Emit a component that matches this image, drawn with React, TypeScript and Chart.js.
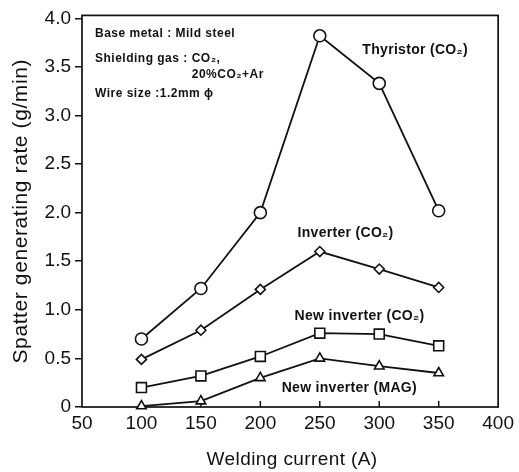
import React, { useEffect, useRef } from "react";
import { Chart, registerables } from "chart.js";

Chart.register(...registerables);

const currents = [100, 150, 200, 250, 300, 350];
const thyristorCO2 = [0.7, 1.22, 2.0, 3.82, 3.33, 2.02];
const inverterCO2 = [0.49, 0.79, 1.21, 1.6, 1.42, 1.23];
const newInverterCO2 = [0.2, 0.32, 0.52, 0.76, 0.75, 0.63];
const newInverterMAG = [0.01, 0.06, 0.3, 0.5, 0.42, 0.35];

const xTicks = [50, 100, 150, 200, 250, 300, 350, 400];
const yTicks = [0, 0.5, 1.0, 1.5, 2.0, 2.5, 3.0, 3.5, 4.0];

const xTitle = "Welding current (A)";
const yTitle = "Spatter generating rate (g/min)";

const seriesNames = ["Thyristor (CO₂)", "Inverter (CO₂)", "New inverter (CO₂)", "New inverter (MAG)"];
// label anchor positions in data units [x, y]
const seriesLabelPos: [number, number][] = [
  [285.8, 3.67],
  [231.3, 1.79],
  [228.8, 0.94],
  [217.9, 0.19],
];
const infoLines = ["Base metal : Mild steel", "Shielding gas : CO₂,", "20%CO₂+Ar", "Wire size :1.2mm ϕ"];
const infoPos: [number, number][] = [
  [60.9, 3.84],
  [60.9, 3.58],
  [142.3, 3.42],
  [60.9, 3.22],
];

const INK = "#111111";
const FONT = "'Liberation Sans', Arial, sans-serif";

const decor = {
  id: "decor",
  beforeDatasetsDraw(chart: any) {
    const { ctx, chartArea: a, scales } = chart;
    const x = scales.x;
    ctx.save();
    ctx.strokeStyle = INK;
    ctx.lineWidth = 1.7;
    ctx.strokeRect(a.left, a.top, a.right - a.left, a.bottom - a.top);
    ctx.lineWidth = 1.5;
    for (const v of xTicks) {
      if (v <= x.min || v >= x.max) continue;
      const px = x.getPixelForValue(v);
      ctx.beginPath();
      ctx.moveTo(px, a.bottom);
      ctx.lineTo(px, a.bottom - 6);
      ctx.stroke();
    }
    ctx.restore();
  },
  afterDraw(chart: any) {
    const { ctx, chartArea: a, scales } = chart;
    const x = scales.x;
    const y = scales.y;
    ctx.save();
    ctx.fillStyle = INK;
    ctx.textAlign = "left";
    ctx.textBaseline = "middle";
    (ctx as any).letterSpacing = "0.5px";
    ctx.font = `bold 12px ${FONT}`;
    infoLines.forEach((t, i) => {
      ctx.fillText(t, x.getPixelForValue(infoPos[i][0]), y.getPixelForValue(infoPos[i][1]));
    });
    (ctx as any).letterSpacing = "0.3px";
    ctx.font = `bold 14px ${FONT}`;
    seriesNames.forEach((t, i) => {
      ctx.fillText(t, x.getPixelForValue(seriesLabelPos[i][0]), y.getPixelForValue(seriesLabelPos[i][1]));
    });
    // axis titles
    (ctx as any).letterSpacing = "0.4px";
    ctx.textAlign = "center";
    ctx.font = `19px ${FONT}`;
    ctx.fillText(xTitle, (a.left + a.right) / 2 + 2, chart.height - 12);
    (ctx as any).letterSpacing = "0.6px";
    ctx.translate(21, (a.top + a.bottom) / 2);
    ctx.rotate(-Math.PI / 2);
    ctx.font = `21px ${FONT}`;
    ctx.fillText(yTitle, 0, 0);
    ctx.restore();
  },
};

export default function App() {
  const ref = useRef<HTMLCanvasElement | null>(null);
  useEffect(() => {
    if (!ref.current) return;
    const mk = (data: number[], style: string, radius: number) => ({
      data: currents.map((c, i) => ({ x: c, y: data[i] })),
      borderColor: INK,
      borderWidth: 1.8,
      pointStyle: style,
      pointRadius: radius,
      pointBorderWidth: 1.6,
      pointBackgroundColor: "#ffffff",
      pointBorderColor: INK,
      tension: 0,
      clip: false as any,
    });
    const chart = new Chart(ref.current, {
      type: "line",
      data: {
        datasets: [
          { label: seriesNames[0], ...mk(thyristorCO2, "circle", 6) },
          { label: seriesNames[1], ...mk(inverterCO2, "rectRot", 5) },
          { label: seriesNames[2], ...mk(newInverterCO2, "rect", 7) },
          { label: seriesNames[3], ...mk(newInverterMAG, "triangle", 5.5) },
        ],
      },
      options: {
        responsive: false,
        animation: false,
        layout: { padding: { left: 0, right: 20, top: 13, bottom: 0 } },
        plugins: { legend: { display: false }, tooltip: { enabled: false } },
        scales: {
          x: {
            type: "linear",
            min: 50,
            max: 400,
            afterBuildTicks: (s: any) => {
              s.ticks = xTicks.map((v) => ({ value: v }));
            },
            afterFit: (s: any) => {
              s.height = 65;
            },
            border: { display: false },
            grid: { drawOnChartArea: false, drawTicks: false },
            ticks: {
              color: INK,
              font: { family: FONT, size: 19 },
              padding: 5,
              maxRotation: 0,
              callback: (v: any) => String(v),
            },
            title: { display: false },
          },
          y: {
            type: "linear",
            min: 0,
            max: 4.03,
            afterBuildTicks: (s: any) => {
              s.ticks = yTicks.map((v) => ({ value: v }));
            },
            afterFit: (s: any) => {
              s.width = 82;
            },
            border: { display: false },
            grid: { drawOnChartArea: false, drawTicks: true, tickLength: 7, color: INK, lineWidth: 1.5 },
            ticks: {
              color: INK,
              font: { family: FONT, size: 19 },
              padding: 4,
              callback: (v: any) => (v === 0 ? "0" : Number(v).toFixed(1)),
            },
            title: { display: false },
          },
        },
      },
      plugins: [decor],
    });
    return () => chart.destroy();
  }, []);
  return (
    <div style={{ position: "fixed", left: 0, top: 0, width: 519, height: 472, background: "#fff" }}>
      <canvas ref={ref} width={519} height={472} />
    </div>
  );
}
